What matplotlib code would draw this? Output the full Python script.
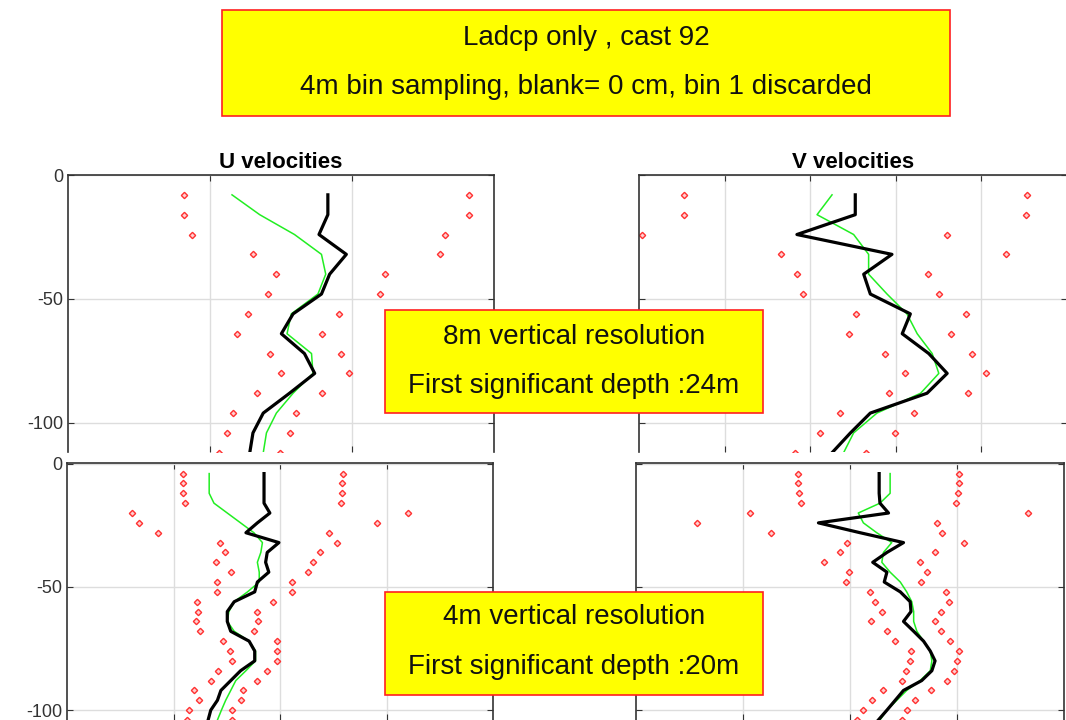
import matplotlib
matplotlib.use("Agg")
import matplotlib.pyplot as plt
import numpy as np

plt.rcParams['font.family'] = ['Liberation Sans', 'DejaVu Sans']

# ---- 8 m resolution (top) ----
depth8 = [-8, -16, -24, -32, -40, -48, -56, -64, -72, -80, -88, -96, -104, -112]
u8_ladcp = [6.6, 6.6, 5.35, 9.2, 6.85, 5.7, 1.7, 0.05, 3.3, 4.75, 1.2, -2.5, -3.95, -4.4]
u8_ref = [-6.9, -3.0, 1.9, 5.7, 6.3, 5.2, 1.45, 0.85, 4.3, 4.5, 1.7, -0.65, -2.05, -2.5]
u8_lo = [-13.6, -13.6, -12.5, -3.95, -0.75, -1.9, -4.65, -6.15, -1.5, 0.05, -3.4, -6.75, -7.6, -8.75]
u8_hi = [26.5, 26.5, 23.05, 22.35, 14.7, 13.9, 8.1, 5.8, 8.5, 9.6, 5.8, 2.05, 1.2, -0.2]
v8_ladcp = [0.53, 0.53, -13.1, 9.1, 2.5, 4.05, 13.4, 11.5, 17.7, 22.0, 17.3, 4.05, -0.6, -4.9]
v8_ref = [-4.9, -8.4, 0.15, 3.65, 3.65, 7.95, 12.6, 15.0, 18.5, 20.05, 15.8, 5.6, 0.15, -2.2]
v8_lo = [-39.45, -39.45, -49.2, -16.9, -13.1, -11.6, 0.75, -0.85, 7.55, 12.25, 8.35, -3.1, -7.65, -13.5]
v8_hi = [40.75, 40.5, 22.0, 35.7, 17.55, 20.05, 26.3, 22.8, 27.7, 31.15, 26.9, 14.2, 9.75, 3.05]

# ---- 4 m resolution (bottom) ----
depth4 = [-4, -8, -12, -16, -20, -24, -28, -32, -36, -40, -44, -48, -52, -56, -60, -64,
          -68, -72, -76, -80, -84, -88, -92, -96, -100, -104]
u4_lo = [-18.3, -18.2, -18.2, -17.8, -27.8, -26.4, -22.9, -11.25, -10.4, -12.1, -9.25, -11.75, -11.75,
         -15.5, -15.4, -15.7, -15.0, -10.7, -9.4, -9.1, -11.6, -13.0, -16.1, -15.2, -17.1, -17.4]
u4_hi = [11.9, 11.7, 11.7, 11.5, 24.0, 18.25, 9.2, 10.75, 7.5, 6.2, 5.3, 2.2, 2.3, -1.4, -4.4, -4.1,
         -4.9, -0.5, -0.5, -0.5, -2.5, -4.4, -6.9, -7.25, -9.1, -9.1]
u4_ladcp = [-3.0, -3.0, -3.0, -3.0, -1.9, -4.25, -6.4, -0.2, -2.4, -2.7, -2.1, -4.25, -4.75, -8.6, -9.9,
            -9.9, -9.25, -5.8, -4.75, -4.75, -7.4, -9.25, -11.1, -11.75, -13.0, -13.5]
u4_ref = [-13.3, -13.3, -13.3, -12.4, -9.9, -7.4, -4.9, -3.3, -3.6, -4.25, -3.9, -3.9, -6.1, -8.6, -9.6,
          -9.9, -8.6, -5.8, -4.6, -4.6, -6.4, -8.3, -9.25, -10.2, -11.0, -11.75]
v4_lo = [-9.7, -9.7, -9.55, -9.25, -18.6, -28.6, -14.8, -0.5, -1.9, -4.8, -0.1, -0.75, 3.75, 4.7, 6.05,
         3.9, 6.9, 8.45, 11.45, 11.25, 10.45, 9.8, 6.25, 4.05, 2.5, 1.25]
v4_hi = [20.4, 20.4, 20.2, 19.8, 33.3, 16.25, 17.2, 21.4, 15.8, 13.0, 14.4, 13.25, 17.9, 18.55, 17.0,
         15.8, 17.0, 18.75, 20.4, 20.0, 19.4, 18.1, 15.2, 12.2, 10.6, 9.7]
v4_ladcp = [5.45, 5.45, 5.45, 5.6, 7.2, -5.9, 1.9, 10.0, 6.9, 4.25, 6.9, 6.4, 9.4, 11.25, 11.4, 10.0,
            11.9, 13.75, 15.0, 15.9, 15.3, 13.4, 10.0, 8.45, 6.9, 5.3]
v4_ref = [7.5, 7.5, 7.5, 5.6, 1.55, 2.5, 5.0, 7.8, 6.25, 5.95, 7.5, 9.4, 10.6, 11.55, 11.9, 11.9, 12.5,
          13.75, 15.0, 15.3, 15.0, 13.1, 10.6, 8.75, 6.9, 5.6]

W, H = 1066, 720
fig = plt.figure(figsize=(W / 100, H / 100), dpi=100)

def ax_px(x0, y0, x1, y1):
    return fig.add_axes([x0 / W, 1 - y1 / H, (x1 - x0) / W, (y1 - y0) / H])

def panel(ax, d, lo, hi, lad, ref, xlim, xticks, ylim, labels):
    ax.plot(lo, d, ls="none", marker="D", ms=3.2, mfc="#ffd0d0", mec="#ff3030", mew=1.0)
    ax.plot(hi, d, ls="none", marker="D", ms=3.2, mfc="#ffd0d0", mec="#ff3030", mew=1.0)
    ax.plot(ref, d, color="#22ee22", lw=1.1)
    ax.plot(lad, d, color="black", lw=2.3)
    ax.set_xlim(*xlim)
    ax.set_ylim(*ylim)
    ax.set_xticks(xticks)
    ax.set_xticklabels([])
    ax.set_yticks([0, -50, -100])
    if labels:
        ax.set_yticklabels(["0", "-50", "-100"])
    else:
        ax.set_yticklabels([])
    ax.tick_params(direction="in", length=4, labelsize=13, labelcolor="#333333", color="#333333",
                   top=True, right=True)
    ax.grid(True, color="#dddddd", lw=1)
    ax.set_axisbelow(True)
    ax.spines["bottom"].set_visible(False)
    for s in ["top", "left", "right"]:
        ax.spines[s].set_color("#333333")
        ax.spines[s].set_linewidth(1.2)

ax1 = ax_px(68, 175, 494, 452)
panel(ax1, depth8, u8_lo, u8_hi, u8_ladcp, u8_ref, (-30, 30), [-10, 10], (-111.7, 0), True)
ax1.set_title("U velocities", fontsize=16, fontweight="bold", pad=5)
ax2 = ax_px(639, 175, 1067, 452)
panel(ax2, depth8, v8_lo, v8_hi, v8_ladcp, v8_ref, (-50, 50), [-30, -10, 10, 30], (-111.7, 0), False)
ax2.set_title("V velocities", fontsize=16, fontweight="bold", pad=5)
ax3 = ax_px(67, 463, 493, 720)
panel(ax3, depth4, u4_lo, u4_hi, u4_ladcp, u4_ref, (-40, 40), [-20, 0, 20], (-104.0, 0.3), True)
ax4 = ax_px(636, 463, 1064, 720)
panel(ax4, depth4, v4_lo, v4_hi, v4_ladcp, v4_ref, (-40, 40), [-20, 0, 20], (-104.0, 0.3), False)

def box(x0, y0, x1, y1, lines, ys):
    from matplotlib.patches import Rectangle
    r = Rectangle((x0 / W, 1 - y1 / H), (x1 - x0) / W, (y1 - y0) / H, transform=fig.transFigure,
                  facecolor="#ffff00", edgecolor="#ff2020", lw=1.2, zorder=10)
    fig.add_artist(r)
    for t, y in zip(lines, ys):
        fig.text((x0 + x1) / 2 / W, 1 - y / H, t, ha="center", va="center", fontsize=20,
                 color="#111111", zorder=11)

box(222, 10, 950, 116, ["Ladcp only , cast 92", "4m bin sampling, blank= 0 cm, bin 1 discarded"], [38, 87])
box(385, 310, 763, 413, ["8m vertical resolution", "First significant depth :24m"], [337, 386])
box(385, 592, 763, 695, ["4m vertical resolution", "First significant depth :20m"], [617, 667])

fig.savefig("out.png", dpi=100)
